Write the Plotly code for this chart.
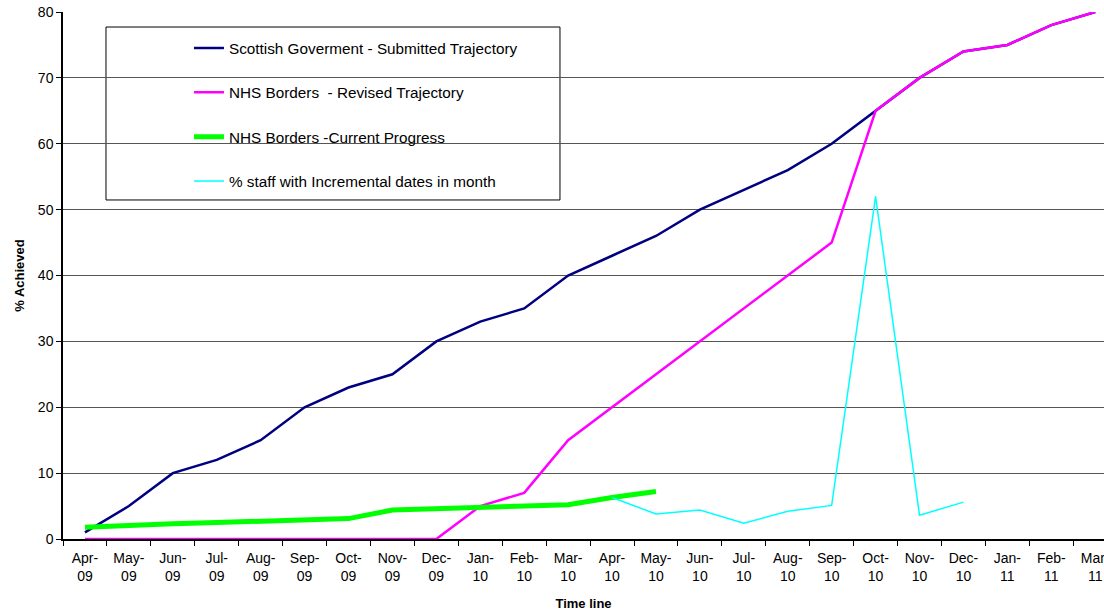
import plotly.graph_objects as go

months = ["Apr-09", "May-09", "Jun-09", "Jul-09", "Aug-09", "Sep-09", "Oct-09", "Nov-09",
          "Dec-09", "Jan-10", "Feb-10", "Mar-10", "Apr-10", "May-10", "Jun-10", "Jul-10",
          "Aug-10", "Sep-10", "Oct-10", "Nov-10", "Dec-10", "Jan-11", "Feb-11", "Mar-11"]
tick_text = [m.replace("-", "-<br>") for m in months]

scottish_gov = [1, 5, 10, 12, 15, 20, 23, 25, 30, 33, 35, 40, 43, 46, 50, 53, 56, 60, 65, 70, 74, 75, 78, 80]
nhs_revised = [0, 0, 0, 0, 0, 0, 0, 0, 0, 5, 7, 15, 20, 25, 30, 35, 40, 45, 65, 70, 74, 75, 78, 80]
nhs_current = [1.8, 2.1, 2.3, 2.5, 2.7, 2.9, 3.1, 4.4, 4.6, 4.8, 4.9, 5.2, 6.3, 7.2]
incremental = [None] * 12 + [6.3, 3.8, 4.4, 2.4, 4.2, 5.1, 52, 3.6, 5.6]

FONT = "Liberation Sans, Arial, sans-serif"

fig = go.Figure()
fig.add_trace(go.Scatter(x=months, y=scottish_gov, mode="lines", name="Scottish Goverment - Submitted Trajectory",
                         line=dict(color="#000080", width=2.5), legendgroup="a"))
fig.add_trace(go.Scatter(x=months, y=nhs_revised, mode="lines", name="NHS Borders  - Revised Trajectory",
                         line=dict(color="#FF00FF", width=2.5), legendgroup="b"))
fig.add_trace(go.Scatter(x=months[:len(nhs_current)], y=nhs_current, mode="lines", name="NHS Borders -Current Progress",
                         line=dict(color="#00FF00", width=5), legendgroup="c"))
fig.add_trace(go.Scatter(x=months[:len(incremental)], y=incremental, mode="lines", name="% staff with Incremental dates in month",
                         line=dict(color="#00FFFF", width=1.5), legendgroup="d"))

# legend frame
fig.add_shape(type="rect", xref="paper", yref="paper", x0=0.0413, x1=0.4774, y0=0.6433, y1=0.9715,
              line=dict(color="black", width=1), fillcolor="white", layer="below")

fig.update_layout(
    width=1104, height=612,
    margin=dict(l=63, r=0, t=12, b=73),
    paper_bgcolor="white", plot_bgcolor="white",
    font=dict(family=FONT, size=14, color="black"),
    showlegend=True,
    legend=dict(x=0.121, y=0.963, xanchor="left", yanchor="top", bgcolor="rgba(0,0,0,0)",
                borderwidth=0, tracegroupgap=21.5, font=dict(size=15.3, family=FONT)),
    xaxis=dict(type="category", categoryorder="array", categoryarray=months,
               tickvals=months, ticktext=tick_text, range=[-0.5, 23.2], automargin=False,
               tickson="boundaries", ticks="outside", ticklen=5, tickcolor="black",
               showline=True, linecolor="black", linewidth=1.5, showgrid=False,
               tickfont=dict(size=14), tickangle=0, ticklabelstandoff=5,
               title=dict(text="<b>Time line</b>", font=dict(size=13), standoff=16)),
    yaxis=dict(range=[0, 80], dtick=10, tickvals=list(range(0, 81, 10)), automargin=False,
               ticks="outside", ticklen=5, tickcolor="black",
               showline=True, linecolor="black", linewidth=1.5,
               showgrid=True, gridcolor="#555555", gridwidth=1, zeroline=False,
               tickfont=dict(size=14),
               title=dict(text="<b>% Achieved</b>", font=dict(size=13), standoff=10)),
)

fig.write_html("out.html")
